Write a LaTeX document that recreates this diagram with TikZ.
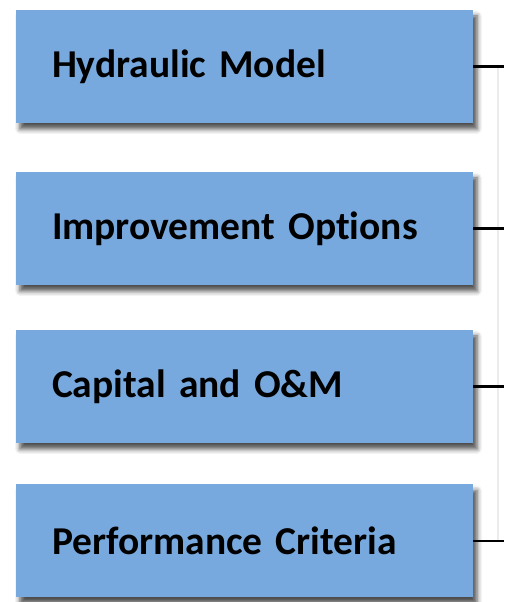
\documentclass[tikz,border=0pt]{standalone}
\usepackage{fontspec}
\setmainfont{Carlito}[RawFeature={-liga}]
\usetikzlibrary{shadows.blur}
\definecolor{boxblue}{HTML}{78A9DE}
\definecolor{busgray}{HTML}{ECECEC}
\begin{document}
\begin{tikzpicture}[x=1pt,y=1pt,
  itembox/.style={rectangle, fill=boxblue, draw=none,
    minimum width=457pt, minimum height=113pt,
    inner xsep=36pt, inner ysep=0pt, text width=385pt, align=left,
    font=\fontsize{39.5}{46}\selectfont\bfseries,
    blur shadow={shadow xshift=4pt, shadow yshift=-6pt,
      shadow blur radius=5pt, shadow opacity=70}},
  link/.style={draw=black, line width=2.2pt},
  bus/.style={draw=busgray, line width=1.5pt}]
  \useasboundingbox (0,0) rectangle (504,602);

  % stacked input boxes
  \node[itembox] (hm) at (244.5,535.5) {Hydraulic Model};
  \node[itembox] (io) at (244.5,373.5) {Improvement Options};
  \node[itembox] (co) at (244.5,215.5) {Capital and O\&M};
  \node[itembox] (pc) at (244.5,61)    {Performance Criteria};

  % connector ends at the right margin
  \coordinate (hmE) at (504,535.5);
  \coordinate (ioE) at (504,373.5);
  \coordinate (coE) at (504,215.5);
  \coordinate (pcE) at (504,61);
  \coordinate (busTop) at (498,535.5);
  \coordinate (busBot) at (498,61);

  % faint collector line
  \draw[bus] (busTop) -- (busBot);

  % stubs from each box to the right
  \draw[link] (hm.east) -- (hmE);
  \draw[link] (io.east) -- (ioE);
  \draw[link] (co.east) -- (coE);
  \draw[link] (pc.east) -- (pcE);
\end{tikzpicture}
\end{document}
